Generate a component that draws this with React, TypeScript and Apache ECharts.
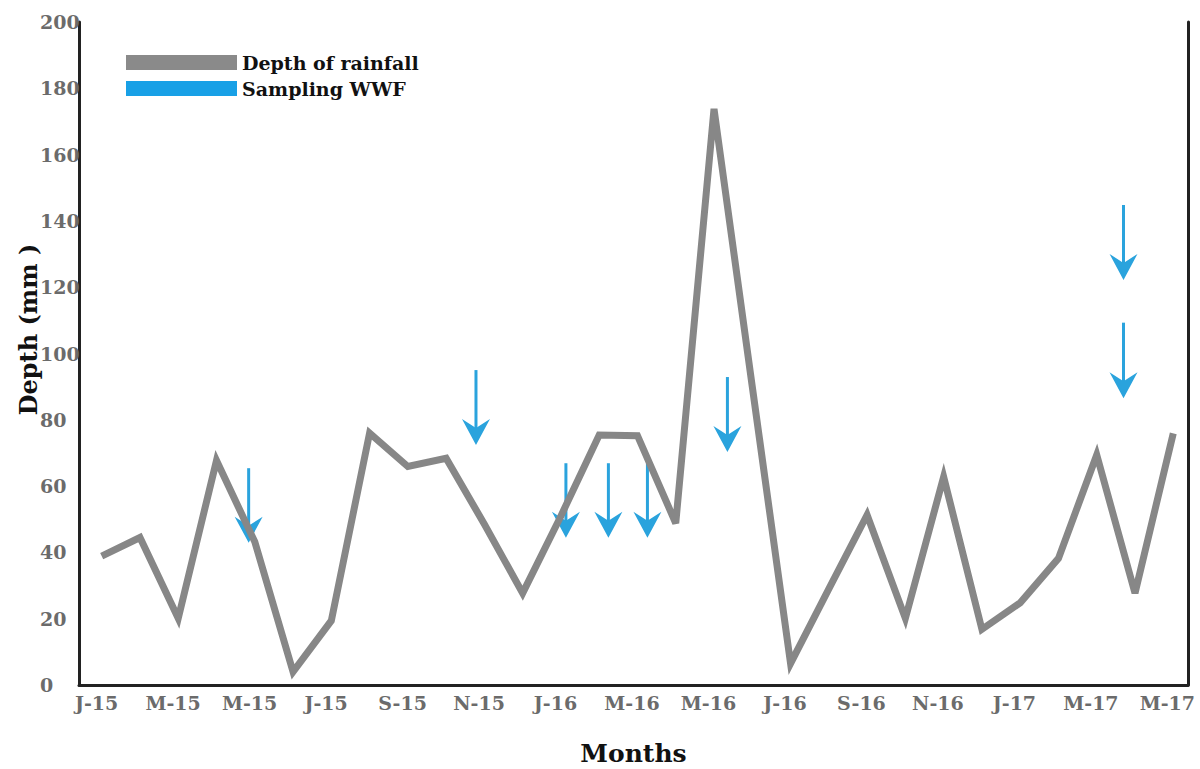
import React, { useEffect, useRef } from "react";
import * as echarts from "echarts";

const months = [
  "J-15", "F-15", "M-15", "A-15", "M-15", "J-15", "J-15", "A-15", "S-15", "O-15", "N-15", "D-15",
  "J-16", "F-16", "M-16", "A-16", "M-16", "J-16", "J-16", "A-16", "S-16", "O-16", "N-16", "D-16",
  "J-17", "F-17", "M-17", "A-17", "M-17",
];
const rainfall = [
  38.9, 44.5, 20.1, 67.7, 43.2, 4.0, 19.4, 76.0, 65.9, 68.4, 48.5, 27.7,
  51.0, 75.4, 75.2, 48.8, 173.8, 90.0, 6.5, 29.0, 51.3, 20.1, 62.8, 16.8,
  24.8, 38.2, 69.4, 27.7, 75.9,
];
// sampling arrows: position (month index), top of shaft, arrow tip (mm)
const arrowX = [3.84, 9.78, 12.13, 13.24, 14.26, 16.35, 26.7, 26.7];
const arrowTop = [65.4, 95.0, 66.9, 66.9, 66.9, 92.9, 144.8, 109.3];
const arrowTip = [42.9, 72.4, 44.4, 44.4, 44.4, 70.3, 122.2, 86.5];

const FONT = "DejaVu Serif";
const GRAY = "#878787";
const BLUE = "#2aa3dd";

export default function App() {
  const ref = useRef<HTMLDivElement>(null);
  useEffect(() => {
    if (!ref.current) return;
    const chart = echarts.init(ref.current, undefined, { renderer: "svg" });
    const lineData = rainfall.map((v, i) => [i, v]);
    const arrowData = arrowX.map((x, i) => [x, arrowTop[i], arrowTip[i]]);
    chart.setOption({
      animation: false,
      backgroundColor: "#fff",
      grid: { left: 79, right: 12, top: 22, bottom: 84, containLabel: false, outerBoundsMode: "none" },
      legend: {
        orient: "vertical",
        left: 126,
        top: 53,
        padding: 0,
        itemWidth: 111,
        itemHeight: 15,
        itemGap: 7,
        icon: "rect",
        textStyle: { fontFamily: FONT, fontWeight: "bold", fontSize: 19, color: "#111" },
        data: [
          { name: "Depth of rainfall", itemStyle: { color: "#8a8a8a", borderWidth: 0 } },
          { name: "Sampling WWF", itemStyle: { color: "#18a0e6", borderWidth: 0 } },
        ],
      },
      xAxis: [
        {
          type: "category",
          data: months,
          boundaryGap: true,
          name: "Months",
          nameLocation: "middle",
          nameGap: 56,
          nameMoveOverlap: false,
          nameTextStyle: { fontFamily: FONT, fontWeight: "bold", fontSize: 25, color: "#111" },
          axisLine: { onZero: false, lineStyle: { color: "#222", width: 3 } },
          axisTick: { show: false },
          axisLabel: {
            interval: 1,
            margin: 8,
            padding: [0, 3, 0, 0],
            fontFamily: FONT,
            fontWeight: "bold",
            fontSize: 19,
            color: "#6b6b6b",
          },
          splitLine: { show: false },
        },
        { type: "value", min: -0.593, max: 28.385, show: false },
      ],
      yAxis: [
        {
          type: "value",
          min: 0,
          max: 200,
          interval: 20,
          name: "Depth (mm )",
          nameLocation: "middle",
          nameGap: 39,
          nameMoveOverlap: false,
          nameTextStyle: {
            fontFamily: FONT,
            fontWeight: "bold",
            fontSize: 24,
            color: "#111",
            padding: [0, 0, 0, 48],
          },
          axisLine: { show: true, onZero: false, lineStyle: { color: "#222", width: 3 } },
          axisTick: { show: false },
          axisLabel: {
            margin: 39,
            align: "left",
            fontFamily: FONT,
            fontWeight: "bold",
            fontSize: 19,
            color: "#6b6b6b",
          },
          splitLine: { show: false },
        },
        {
          type: "value",
          min: 0,
          max: 200,
          position: "right",
          axisLine: { show: true, onZero: false, lineStyle: { color: "#222", width: 3 } },
          axisTick: { show: false },
          axisLabel: { show: false },
          splitLine: { show: false },
        },
      ],
      series: [
        {
          name: "Depth of rainfall",
          type: "line",
          xAxisIndex: 1,
          yAxisIndex: 0,
          data: lineData,
          showSymbol: false,
          symbol: "none",
          itemStyle: { color: GRAY },
          lineStyle: { color: GRAY, width: 7, join: "miter" },
        },
        {
          name: "Sampling WWF",
          type: "custom",
          xAxisIndex: 1,
          yAxisIndex: 0,
          itemStyle: { color: BLUE },
          encode: { x: 0, y: [1, 2] },
          data: arrowData,
          renderItem: (params: any, api: any) => {
            const top = api.coord([api.value(0), api.value(1)]);
            const tip = api.coord([api.value(0), api.value(2)]);
            const x = tip[0];
            const y = tip[1];
            return {
              type: "group",
              children: [
                {
                  type: "line",
                  shape: { x1: x, y1: top[1], x2: x, y2: y - 14 },
                  style: { stroke: BLUE, lineWidth: 3 },
                },
                {
                  type: "polygon",
                  shape: { points: [[x, y], [x - 14, y - 26], [x, y - 17], [x + 14, y - 26]] },
                  style: { fill: BLUE },
                },
              ],
            };
          },
        },
      ],
    });
    return () => chart.dispose();
  }, []);
  return (
    <div
      ref={ref}
      style={{ position: "absolute", left: 0, top: 0, width: 1200, height: 769, background: "#fff" }}
    />
  );
}
